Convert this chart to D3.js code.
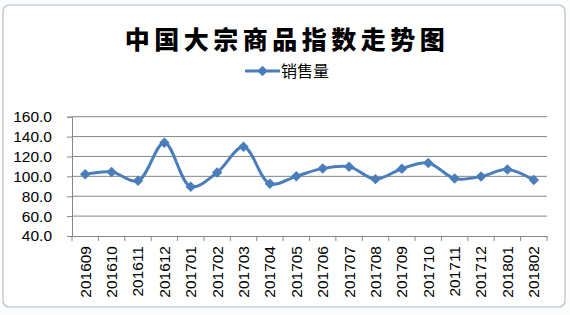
<!DOCTYPE html>
<html>
<head>
<meta charset="utf-8">
<script src="https://cdn.jsdelivr.net/npm/d3@7"></script>
<style>
  body { margin: 0; background: #fff; }
  svg { display: block; }
</style>
</head>
<body>
<svg id="chart" width="570" height="315"></svg>
<script>
var months = ['201609','201610','201611','201612','201701','201702','201703','201704','201705',
              '201706','201707','201708','201709','201710','201711','201712','201801','201802'];
var sales = [102, 104.3, 95.5, 133.8, 89.5, 103.8, 129.7, 92.5, 100,
             108, 109.7, 97.2, 107.7, 113.5, 97.8, 99.8, 107, 96.3];
var yTicks = [40, 60, 80, 100, 120, 140, 160];
var title = '中国大宗商品指数走势图';
var seriesName = '销售量';

var svg = d3.select('#chart');
var blue = '#4a7ebb', grid = '#868686';
var margin = {top: 116.7, left: 72, bottom: 79, right: 23};
var width = 570, height = 315;

// excel sheet behind the chart
svg.append('rect').attr('width', width).attr('height', height).attr('fill', '#fbfcfd');
svg.append('rect')
    .attr('x', 3).attr('y', 5).attr('width', 562).attr('height', 302)
    .attr('rx', 6).attr('fill', '#fff').attr('stroke', '#b4bcc4').attr('stroke-width', 1.2);

var x = d3.scaleBand()
    .domain(months)
    .range([margin.left, width - margin.right]);

var y = d3.scaleLinear()
    .domain([40, 160])
    .range([height - margin.bottom, margin.top]);

// grid lines
svg.append('g').selectAll('line')
    .data(yTicks.slice(1))
  .enter().append('line')
    .attr('x1', margin.left).attr('x2', width - margin.right)
    .attr('y1', d => y(d)).attr('y2', d => y(d))
    .attr('stroke', grid).attr('stroke-width', 1);

var yAxis = svg.append('g')
    .attr('transform', `translate(${margin.left},0)`)
    .call(d3.axisLeft(y).tickValues(yTicks).tickFormat(d3.format('.1f')).tickSize(5).tickPadding(15));
yAxis.select('.domain').attr('stroke', grid);
yAxis.selectAll('.tick line').attr('stroke', grid);
yAxis.selectAll('text')
    .attr('font-family', 'Liberation Sans, Arial, sans-serif')
    .attr('font-size', '15.5px').attr('fill', '#000');

// x axis with ticks on band boundaries
var xAxis = svg.append('g')
    .attr('transform', `translate(0,${y(40)})`)
    .call(d3.axisBottom(x).tickSize(0).tickSizeOuter(0));
xAxis.select('.domain').attr('stroke', grid);
xAxis.selectAll('text')
    .attr('font-family', 'Liberation Sans, Arial, sans-serif')
    .attr('font-size', '15.5px').attr('fill', '#000')
    .attr('text-anchor', 'end')
    .attr('transform', 'rotate(-90)')
    .attr('x', -10).attr('y', 0).attr('dy', '0.35em');
xAxis.selectAll('.bound')
    .data(months.concat(['end']))
  .enter().append('line')
    .attr('x1', (d, i) => margin.left + i * x.step())
    .attr('x2', (d, i) => margin.left + i * x.step())
    .attr('y1', 0).attr('y2', 5)
    .attr('stroke', grid);

// series
var cx = d => x(d) + x.bandwidth() / 2;
var line = d3.line()
    .x((d, i) => cx(months[i]))
    .y(d => y(d))
    .curve(d3.curveCatmullRom.alpha(0.5));

svg.append('path')
    .datum(sales)
    .attr('d', line)
    .attr('fill', 'none')
    .attr('stroke', blue)
    .attr('stroke-width', 3)
    .attr('stroke-linejoin', 'round');

var diamond = d3.symbol().type(d3.symbolDiamond2).size(70);
svg.append('g').selectAll('path')
    .data(sales)
  .enter().append('path')
    .attr('d', diamond)
    .attr('transform', (d, i) => `translate(${cx(months[i])},${y(d)})`)
    .attr('fill', blue);

// title
svg.append('text')
    .attr('x', 287).attr('y', 49)
    .attr('text-anchor', 'middle')
    .attr('font-family', 'Noto Sans CJK SC, sans-serif')
    .attr('font-weight', 900)
    .attr('font-size', '25px')
    .attr('letter-spacing', '4.5px')
    .text(title);

// legend
var lg = svg.append('g').attr('transform', 'translate(245,71)');
lg.append('line').attr('x1', 0).attr('x2', 35).attr('stroke', blue).attr('stroke-width', 3);
lg.append('path').attr('d', diamond).attr('transform', 'translate(17.5,0)').attr('fill', blue);
lg.append('text')
    .attr('x', 36).attr('dy', '0.35em')
    .attr('font-family', 'Noto Sans CJK SC, sans-serif')
    .attr('font-size', '16px')
    .text(seriesName);
</script>
</body>
</html>
